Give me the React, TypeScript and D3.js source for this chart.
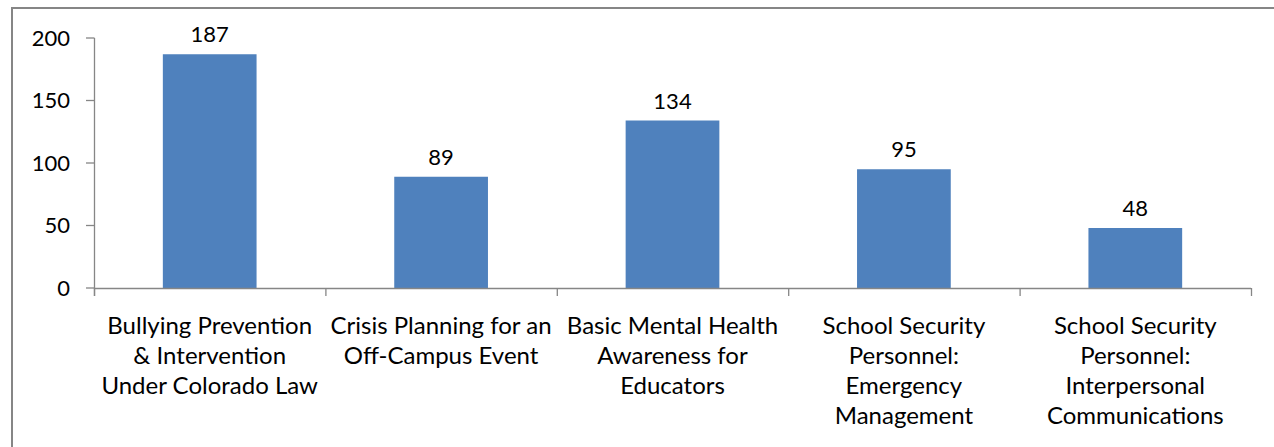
import React from "react";
import * as d3 from "d3";

const categories: string[][] = [
  ["Bullying Prevention", "& Intervention", "Under Colorado Law"],
  ["Crisis Planning for an", "Off-Campus Event"],
  ["Basic Mental Health", "Awareness for", "Educators"],
  ["School Security", "Personnel:", "Emergency", "Management"],
  ["School Security", "Personnel:", "Interpersonal", "Communications"],
];
const values: number[] = [187, 89, 134, 95, 48];
const yTicks: number[] = [0, 50, 100, 150, 200];

const W = 1274;
const H = 447;
const FONT = "Lato, 'Open Sans', sans-serif";
const FS_NUM = 22;
const FS_CAT = 24;
const AXIS = "#868686";
const BAR = "#4F81BD";

export default function App() {
  const ids = categories.map((_, i) => String(i));
  const x = d3
    .scaleBand<string>()
    .domain(ids)
    .range([94, 1251])
    .paddingInner(0.595)
    .paddingOuter(0.2975);
  const step = (1251 - 94) / ids.length;
  const y = d3.scaleLinear().domain([0, 200]).range([288, 38]);

  return (
    <svg
      width={W}
      height={H}
      style={{ position: "absolute", left: 0, top: 0, background: "#fff" }}
      fontFamily={FONT}
    >
      <rect x={0} y={0} width={W} height={H} fill="#fff" />
      {/* frame */}
      <line x1={12} y1={8} x2={12} y2={H} stroke={AXIS} strokeWidth={2} />
      <line x1={11} y1={8} x2={W} y2={8} stroke={AXIS} strokeWidth={2} />

      {/* bars */}
      {values.map((v, i) => (
        <rect
          key={"b" + i}
          x={x(String(i))}
          y={y(v)}
          width={x.bandwidth()}
          height={y(0) - y(v)}
          fill={BAR}
        />
      ))}

      {/* y axis */}
      <line x1={94.5} y1={y(200)} x2={94.5} y2={296} stroke={AXIS} strokeWidth={1.3} />
      {yTicks.map((t) => (
        <g key={"yt" + t}>
          <line x1={86} y1={y(t)} x2={94.5} y2={y(t)} stroke={AXIS} strokeWidth={1.3} />
          <text
            x={70}
            y={y(t)}
            dy="0.36em"
            textAnchor="end"
            fontSize={FS_NUM}
            fill="#000"
          >
            {t}
          </text>
        </g>
      ))}

      {/* x axis */}
      <line x1={94} y1={288.5} x2={1251} y2={288.5} stroke={AXIS} strokeWidth={1.3} />
      {d3.range(ids.length + 1).map((k) => (
        <line
          key={"xt" + k}
          x1={94.5 + k * step}
          y1={288}
          x2={94.5 + k * step}
          y2={296}
          stroke={AXIS}
          strokeWidth={1.3}
        />
      ))}

      {/* value labels */}
      {values.map((v, i) => (
        <text
          key={"v" + i}
          x={(x(String(i)) as number) + x.bandwidth() / 2}
          y={y(v) - 12}
          textAnchor="middle"
          fontSize={FS_NUM}
          fill="#000"
        >
          {v}
        </text>
      ))}

      {/* category labels */}
      {categories.map((lines, i) => (
        <text
          key={"c" + i}
          textAnchor="middle"
          fontSize={FS_CAT}
          fill="#000"
        >
          {lines.map((ln, j) => (
            <tspan
              key={j}
              x={(x(String(i)) as number) + x.bandwidth() / 2}
              y={334 + j * 30}
            >
              {ln}
            </tspan>
          ))}
        </text>
      ))}
    </svg>
  );
}
